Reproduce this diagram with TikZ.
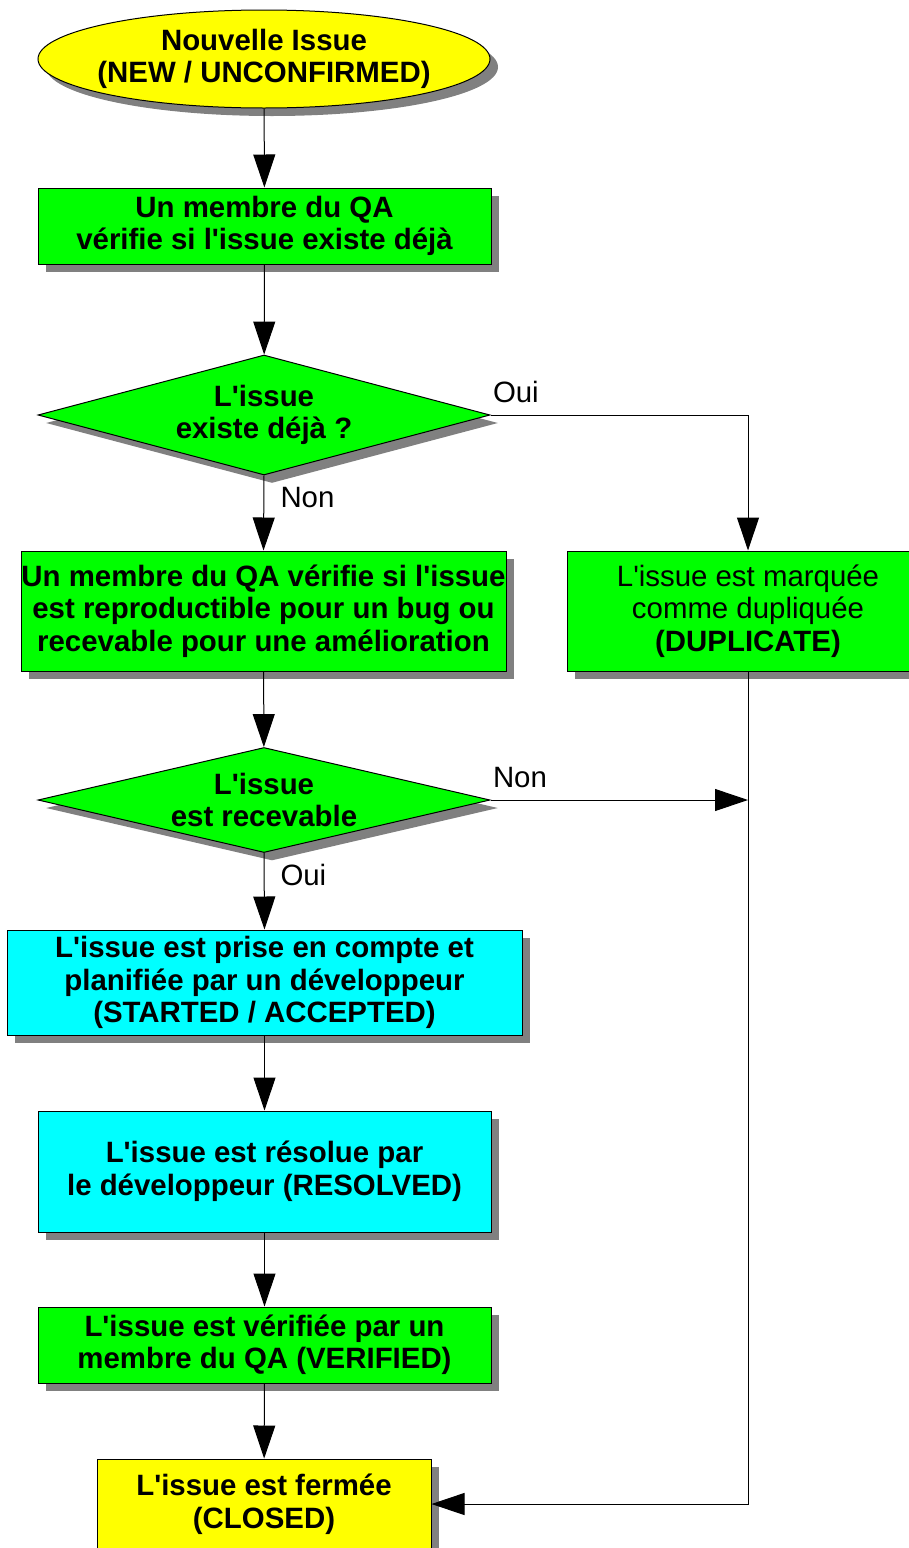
\documentclass[tikz,border=0pt]{standalone}
\usepackage{fontspec}
\setmainfont{Liberation Sans}[Ligatures=TeXOff]
\usetikzlibrary{shapes.geometric,shadows,arrows.meta}

\definecolor{qagreen}{HTML}{00FF00}
\definecolor{qayellow}{HTML}{FFFF00}
\definecolor{qacyan}{HTML}{00FFFF}
\definecolor{shadowgray}{HTML}{808080}

\tikzset{
  every node/.style={font=\fontsize{29.4}{32.5}\selectfont, align=center, inner sep=0pt},
  shaded/.style={draw=black, line width=1pt,
    drop shadow={shadow xshift=8pt, shadow yshift=-8pt, fill=shadowgray, opacity=1}},
  procbox/.style={shaded, rectangle, font=\fontsize{29.4}{32.5}\selectfont\bfseries},
  decision/.style={shaded, diamond, fill=qagreen, inner sep=-12pt, shape aspect=3.77,
    minimum width=452pt, font=\fontsize{29.4}{32.5}\selectfont\bfseries},
  terminal/.style={shaded, ellipse, fill=qayellow, inner sep=-30pt,
    font=\fontsize{29.4}{32.5}\selectfont\bfseries},
  link/.style={draw=black, line width=1pt, -{Triangle[length=33pt,width=22pt]}},
  answer/.style={font=\fontsize{29.4}{32.5}\selectfont}
}

\begin{document}
\begin{tikzpicture}[x=1pt,y=-1pt]
  \useasboundingbox (0,0) rectangle (909,1548);

  \node[terminal, minimum width=452pt, minimum height=98pt] (new) at (264,59)
    {Nouvelle Issue\\(NEW / UNCONFIRMED)};
  \node[procbox, fill=qagreen, minimum width=453pt, minimum height=76pt] (check) at (264.5,226)
    {Un membre du QA\\vérifie si l'issue existe déjà};
  \node[decision, minimum height=120pt] (exists) at (264,415)
    {L'issue\\existe déjà ?};
  \node[procbox, fill=qagreen, minimum width=485pt, minimum height=120pt] (reprod) at (263.5,611)
    {Un membre du QA vérifie si l'issue\\est reproductible pour un bug ou\\recevable pour une amélioration};
  \node[procbox, fill=qagreen, minimum width=362pt, minimum height=120pt,
    font=\fontsize{29.4}{32.5}\selectfont] (dup) at (748,611)
    {L'issue est marquée\\comme dupliquée\\\textbf{(DUPLICATE)}};
  \node[decision, minimum height=105pt] (recev) at (264,800)
    {L'issue\\est recevable};
  \node[procbox, fill=qacyan, minimum width=515pt, minimum height=105pt] (started) at (264.5,982.5)
    {L'issue est prise en compte et\\planifiée par un développeur\\(STARTED / ACCEPTED)};
  \node[procbox, fill=qacyan, minimum width=453pt, minimum height=121pt] (resolved) at (264.5,1171.5)
    {L'issue est résolue par\\le développeur (RESOLVED)};
  \node[procbox, fill=qagreen, minimum width=453pt, minimum height=76pt] (verified) at (264.5,1345)
    {L'issue est vérifiée par un\\membre du QA (VERIFIED)};
  \node[procbox, fill=qayellow, minimum width=334pt, minimum height=90pt] (closed) at (264,1504)
    {L'issue est fermée\\(CLOSED)};

  \coordinate (merge) at (dup.south |- recev.east);

  \draw[link] (new) -- (check);
  \draw[link] (check) -- (exists);
  \draw[link] (exists.east) -| node[answer, at start, above right, xshift=2pt, yshift=12pt]{Oui} (dup.north);
  \draw[link] (exists.south) -- node[answer, at start, below right, xshift=16pt, yshift=-11pt]{Non} (reprod.north);
  \draw[link] (reprod) -- (recev);
  \draw[link] (recev.east) -- node[answer, at start, above right, xshift=2pt, yshift=12pt]{Non} (merge);
  \draw[link] (recev.south) -- node[answer, at start, below right, xshift=16pt, yshift=-11pt]{Oui} (started.north);
  \draw[link] (started) -- (resolved);
  \draw[link] (resolved) -- (verified);
  \draw[link] (verified) -- (closed);
  \draw[link] (dup.south) |- (closed.east);
\end{tikzpicture}
\end{document}
